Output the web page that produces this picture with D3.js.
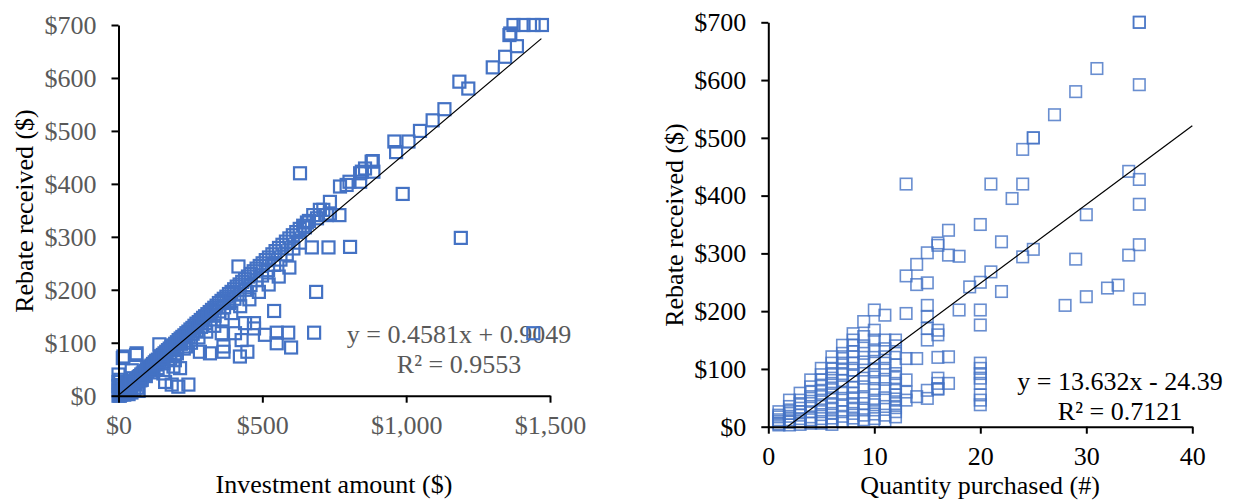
<!DOCTYPE html>
<html>
<head>
<meta charset="utf-8">
<script src="https://cdn.jsdelivr.net/npm/d3@7"></script>
<style>
  html, body { margin: 0; padding: 0; background: #fff; }
  svg { display: block; }
  text { font-family: "Liberation Serif", "Times New Roman", serif; }
</style>
</head>
<body>
<svg id="chart" width="1235" height="504"></svg>
<script>
// ---- Investment amount vs rebate received ----
// points sitting on the 50% rebate line
const investOnHalfLine = [
  [4,2],[8,4],[12,6],[15,8],[19,10],[24,12],[28,14],[33,16],[37,18],[42,21],[46,23],[51,25],[55,28],[60,30],
  [65,32],[70,35],[74,37],[79,40],[84,42],[89,44],[94,47],[99,50],[104,52],[110,55],[115,57],[120,60],[126,63],
  [131,66],[137,68],[143,71],[148,74],[154,77],[160,80],[166,83],[172,86],[178,89],[184,92],[190,95],[197,98],
  [203,101],[209,105],[216,108],[222,111],[229,114],[236,118],[243,121],[250,125],[257,128],[264,132],[271,136],
  [279,139],[286,143],[294,147],[301,150],[309,154],[317,158],[325,162],[333,166],[341,170],[349,175],[358,179],
  [366,183],[375,187],[384,192],[393,196],[402,201],[411,206],[421,210],[430,215],[440,220],[450,225],[460,230],
  [470,235],[480,240],[491,245],[501,250],[512,256],[523,261],[535,267],[546,273],[558,279],[570,285],[582,291],
  [594,297],[606,303],[618,309],[630,315],[642,321],[655,327]
];
// points just under the 50% line
const investBand = [
  [10,4],[18,8],[26,11],[34,15],[43,19],[52,23],[61,27],[70,31],[80,36],[90,40],[100,45],[110,49],[121,54],
  [132,59],[143,64],[155,70],[167,75],[179,81],[191,86],[204,92],[217,98],[230,104],[244,110],[258,117],
  [272,123],[287,130],[302,137],[318,144],[334,151],[350,159],[367,167],[385,175],[403,183],[421,191],
  [440,200],[459,209],[479,218],[499,227],[520,237],[541,247],[563,257],[585,267],[608,278],[631,289],
  [22,7],[40,14],[58,21],[76,29],[95,37],[115,44],[136,52],[157,61],[180,70],[203,80],[227,89],[252,100],
  [278,110],[305,121],[333,132],[362,144],[392,156],[423,169],[455,182],[488,196],[522,210],[557,225],[594,242]
];
// small investments near the origin
const investSmall = [
  [0,0],[2,1],[3,3],[5,0],[6,5],[8,2],[1,10],[0,18],[0,26],[3,14],[10,12],[14,3],[20,2],[25,5],[30,8],
  [35,3],[45,6],[55,10],[65,15],[70,9],[12,20],[6,30],[28,22],[40,28],[50,33],[0,40],[2,7]
];
// larger investments and off-line rebates
const investLarge = [
  [677,341],[700,351],[712,351],[724,341],[735,344],[735,366],[768,341],[770,395],[793,398],[803,404],[840,404],
  [846,423],[840,420],[857,429],[880,442],[886,423],[884,443],[959,480],[965,460],[1008,480],[1048,500],
  [1092,520],[1133,541],[1185,593],[1216,580],[1301,620],[1344,640],[1359,681],[1362,684],[1385,660],
  [1373,700],[1408,700],[1443,700],[1472,700],[662,330],[648,318],[690,335]
];
const investOutliers = [
  [15,71],[61,77],[17,74],[63,80],[142,97],[121,48],[156,42],[191,55],[46,48],[81,30],[162,26],[185,21],
  [208,17],[243,21],[196,67],[214,52],[235,93],[283,83],[318,80],[365,93],[365,83],[422,74],[448,83],
  [428,105],[405,118],[359,118],[440,137],[471,137],[471,127],[509,115],[550,99],[550,119],[590,119],
  [600,91],[541,160],[417,244],[672,280],[730,280],[805,281],[687,196],[680,119],[1442,118],[1190,298],
  [988,381],[631,420]
];
const investFit = [0.4581, 0.9049];       // slope, intercept
const investFitLabel = ["y = 0.4581x + 0.9049", "R² = 0.9553"];
const investXTicks = [0, 500, 1000, 1500];
const rebateTicks = [0, 100, 200, 300, 400, 500, 600, 700];

// ---- Quantity purchased vs rebate received ----
const qtyPoints = [
  [1,3],[1,9],[1,17],[1,26],[1,12],[1,5],[1,20],
  [2,3],[2,12],[2,23],[2,35],[2,46],[2,8],[2,18],[2,29],
  [3,9],[3,20],[3,32],[3,46],[3,58],[3,4],[3,14],[3,26],[3,40],
  [4,6],[4,17],[4,35],[4,52],[4,69],[4,81],[4,12],[4,26],[4,44],[4,60],
  [5,14],[5,29],[5,46],[5,63],[5,81],[5,101],[5,6],[5,21],[5,38],[5,55],[5,72],[5,90],
  [6,9],[6,23],[6,40],[6,58],[6,75],[6,92],[6,110],[6,121],[6,4],[6,15],[6,32],[6,50],[6,67],[6,84],[6,100],
  [7,9],[7,26],[7,46],[7,69],[7,92],[7,110],[7,127],[7,141],[7,18],[7,36],[7,58],[7,80],[7,100],[7,118],
  [8,9],[8,23],[8,40],[8,58],[8,78],[8,98],[8,121],[8,141],[8,161],[8,15],[8,32],[8,50],[8,68],[8,88],[8,110],[8,130],[8,150],
  [9,12],[9,29],[9,52],[9,69],[9,98],[9,127],[9,156],[9,182],[9,20],[9,40],[9,84],[9,112],[9,140],
  [10,14],[10,29],[10,46],[10,63],[10,86],[10,110],[10,133],[10,167],[10,202],[10,22],[10,38],[10,75],[10,98],[10,120],[10,150],
  [11,20],[11,35],[11,66],[11,98],[11,121],[11,150],[11,193],[11,10],[11,50],[11,82],[11,110],[11,135],
  [12,17],[12,26],[12,40],[12,55],[12,63],[12,75],[12,92],[12,107],[12,127],[12,150],[12,33],[12,48],[12,85],[12,140],
  [13,46],[13,81],[13,118],[13,196],[13,261],[13,420],[13,60],
  [14,52],[14,118],[14,246],[14,281],
  [15,49],[15,63],[15,150],[15,191],[15,210],[15,249],[15,301],[15,170],
  [16,66],[16,75],[16,84],[16,120],[16,159],[16,167],[16,318],[16,314],[16,65],
  [17,75],[17,121],[17,297],[17,340],
  [18,202],[18,295],
  [19,242],
  [20,38],[20,46],[20,55],[20,75],[20,84],[20,92],[20,101],[20,110],[20,176],[20,202],[20,250],[20,350],
  [21,268],[21,420],
  [22,234],[22,320],
  [23,395],
  [24,294],[24,420],[24,480],
  [25,307],[25,500],[25,500],
  [27,540],
  [28,210],
  [29,290],[29,580],
  [30,225],[30,367],
  [31,620],
  [32,240],
  [33,245],
  [34,297],[34,442],
  [35,221],[35,315],[35,385],[35,428],[35,592],[35,700],[35,700]
];
const qtyFit = [13.632, -24.39];          // slope, intercept
const qtyFitLabel = ["y = 13.632x - 24.39", "R² = 0.7121"];
const qtyXTicks = [0, 10, 20, 30, 40];

const svg = d3.select("#chart");
const BLUE = "#4472C4";
const FONT = 26;

function panel(cfg) {
  const g = svg.append("g");
  const x = d3.scaleLinear().domain(cfg.xDomain).range(cfg.xRange);
  const y = d3.scaleLinear().domain([0, 700]).range(cfg.yRange);

  // equation label
  const eq = g.append("g").attr("fill", cfg.labelColor)
    .attr("font-size", FONT).attr("text-anchor", "middle");
  cfg.fitLabel.forEach((t, i) => {
    eq.append("text").attr("x", cfg.eqX).attr("y", cfg.eqY[i]).text(t);
  });

  // markers
  const s = cfg.marker;
  g.append("g").selectAll("rect").data(cfg.points).join("rect")
    .attr("x", d => x(d[0]) - s / 2)
    .attr("y", d => y(d[1]) - s / 2)
    .attr("width", s).attr("height", s)
    .attr("fill", "none")
    .attr("stroke", BLUE)
    .attr("stroke-width", cfg.markerStroke)
    .attr("stroke-opacity", cfg.markerOpacity);

  // linear trend line, clipped to the plotted area
  const [m, b] = cfg.fit;
  let x0 = cfg.fitFrom, x1 = cfg.fitTo;
  if (m * x0 + b < 0) x0 = -b / m;
  g.append("line")
    .attr("x1", x(x0)).attr("y1", y(m * x0 + b))
    .attr("x2", x(x1)).attr("y2", y(m * x1 + b))
    .attr("stroke", "#000").attr("stroke-width", 1.2);

  // axes
  const yAxis = d3.axisLeft(y).tickValues(rebateTicks)
    .tickFormat(d => "$" + d3.format(",")(d))
    .tickSize(7).tickSizeOuter(0).tickPadding(15);
  const xAxis = d3.axisBottom(x).tickValues(cfg.xTicks)
    .tickFormat(cfg.xFormat).tickSize(7).tickSizeOuter(0).tickPadding(13);

  const ya = g.append("g").attr("transform", `translate(${cfg.xRange[0]},0)`).call(yAxis);
  const xa = g.append("g").attr("transform", `translate(0,${cfg.yRange[0]})`).call(xAxis);
  [ya, xa].forEach(a => {
    a.attr("font-family", null).attr("font-size", FONT);
    a.select(".domain").attr("stroke", "#000").attr("stroke-width", 2);
    a.selectAll(".tick line").attr("stroke", "#000").attr("stroke-width", 2);
    a.selectAll(".tick text").attr("fill", cfg.labelColor);
  });

  // axis titles
  g.append("text").attr("font-size", FONT).attr("text-anchor", "middle")
    .attr("x", cfg.xTitlePos[0]).attr("y", cfg.xTitlePos[1]).attr("fill", "#000")
    .text(cfg.xTitle);
  g.append("text").attr("font-size", FONT).attr("text-anchor", "middle").attr("fill", "#000")
    .attr("transform", `translate(${cfg.yTitlePos[0]},${cfg.yTitlePos[1]}) rotate(-90)`)
    .text("Rebate received ($)");
}

panel({
  points: [...investSmall, ...investBand, ...investOnHalfLine, ...investLarge, ...investOutliers],
  xDomain: [0, 1500], xRange: [118.5, 550], yRange: [395.7, 25],
  xTicks: investXTicks, xFormat: d => "$" + d3.format(",")(d),
  fit: investFit, fitFrom: 0, fitTo: 1470, fitLabel: investFitLabel,
  eqX: 459, eqY: [342.5, 373],
  labelColor: "#595959",
  marker: 12, markerStroke: 2.2, markerOpacity: 1,
  xTitle: "Investment amount ($)", xTitlePos: [334, 493],
  yTitlePos: [33, 211]
});

panel({
  points: qtyPoints,
  xDomain: [0, 40], xRange: [768.3, 1192.3], yRange: [426.7, 22.3],
  xTicks: qtyXTicks, xFormat: d3.format("d"),
  fit: qtyFit, fitFrom: 1, fitTo: 40, fitLabel: qtyFitLabel,
  eqX: 1120, eqY: [389.5, 419.5],
  labelColor: "#000",
  marker: 11.5, markerStroke: 1.6, markerOpacity: 0.8,
  xTitle: "Quantity purchased (#)", xTitlePos: [980, 494],
  yTitlePos: [683, 225]
});
</script>
</body>
</html>
